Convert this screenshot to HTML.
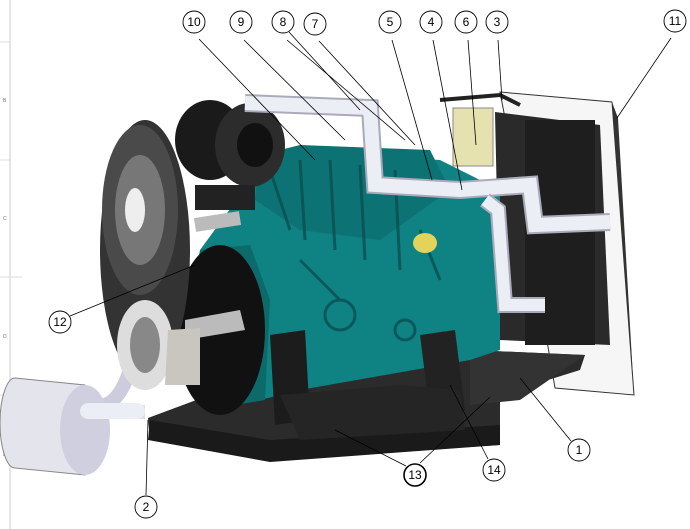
<!DOCTYPE html>
<html><head><style>html,body{margin:0;padding:0;background:#fff;overflow:hidden}svg{display:block}text{font-family:"Liberation Sans",sans-serif}</style></head>
<body>
<svg width="690" height="529" viewBox="0 0 690 529" xmlns="http://www.w3.org/2000/svg">
<rect width="690" height="529" fill="#fff"/>
<line x1="10" y1="0" x2="10" y2="529" stroke="#ccc"/>
<line x1="0" y1="42" x2="10" y2="42" stroke="#ddd"/><line x1="0" y1="160" x2="10" y2="160" stroke="#ddd"/><line x1="0" y1="277" x2="22" y2="277" stroke="#ddd"/><line x1="0" y1="395" x2="10" y2="395" stroke="#ddd"/>
<g font-size="5" fill="#777"><text x="3" y="102">B</text><text x="3" y="220">C</text><text x="3" y="338">D</text><text x="3" y="456">E</text></g>
<!-- radiator back panel -->
<polygon points="500,92 612,102 634,395 555,388 540,300" fill="#f6f6f6" stroke="#333"/>
<polygon points="612,102 618,118 634,395" fill="#333"/>
<!-- radiator -->
<polygon points="495,112 600,125 610,345 500,340" fill="#2a2a2a"/>
<rect x="525" y="120" width="70" height="225" fill="#1e1e1e"/>
<!-- base frame -->
<polygon points="148,418 150,440 270,460 500,445 500,395 580,370 585,355 470,350 250,380" fill="#2b2b2b"/>
<polygon points="150,420 270,440 500,425 500,445 270,462 148,440" fill="#1a1a1a"/>
<polygon points="470,350 585,355 520,400 470,405" fill="#333"/>
<!-- engine body teal -->
<polygon points="200,250 255,175 290,150 440,160 500,190 500,350 470,360 300,390 260,400 200,380" fill="#0f8284"/>
<polygon points="260,155 300,145 430,150 450,190 380,240 300,230 255,200" fill="#0d7273"/>
<polygon points="200,250 250,245 270,300 265,400 205,410 180,360" fill="#0c6a6b"/>
<g stroke="#0a4f50" stroke-width="3" fill="none" opacity="0.8">
<path d="M270,170 L290,230 M300,160 L305,240 M330,160 L335,250 M360,165 L365,260 M395,170 L400,270 M300,260 L340,300 M420,230 L440,280"/>
<circle cx="340" cy="315" r="15"/><circle cx="405" cy="330" r="10"/>
</g>
<!-- flywheel black disc -->
<ellipse cx="220" cy="330" rx="45" ry="85" fill="#111"/>
<polygon points="185,320 240,310 245,330 185,340" fill="#bbb"/>
<!-- black brackets -->
<polygon points="270,335 305,330 310,420 275,425" fill="#1c1c1c"/>
<polygon points="420,335 455,330 465,410 430,415" fill="#222"/>
<polygon points="280,395 400,385 460,390 465,430 300,440" fill="#252525"/>
<!-- air filter -->
<ellipse cx="210" cy="140" rx="35" ry="40" fill="#1a1a1a"/>
<ellipse cx="250" cy="145" rx="35" ry="42" fill="#2c2c2c"/>
<ellipse cx="255" cy="145" rx="18" ry="22" fill="#111"/>
<rect x="195" y="185" width="60" height="25" fill="#222"/>
<!-- pipes white -->
<path d="M245,103 L370,108 L375,185 L460,190 L530,185 L535,225 L610,222" fill="none" stroke="#aab" stroke-width="18"/>
<path d="M245,103 L370,108 L375,185 L460,190 L530,185 L535,225 L610,222" fill="none" stroke="#eceef5" stroke-width="14"/>
<path d="M485,200 L498,210 L505,305 L545,305" fill="none" stroke="#aab" stroke-width="16"/>
<path d="M485,200 L498,210 L505,305 L545,305" fill="none" stroke="#eceef5" stroke-width="12"/>
<path d="M195,225 L240,218" stroke="#bbb" stroke-width="14"/>
<path d="M130,370 Q120,400 105,405 L70,410" fill="none" stroke="#ccd" stroke-width="14"/>
<path d="M75,412 L145,412" stroke="#dde" stroke-width="14"/>
<!-- tank -->
<rect x="453" y="108" width="40" height="58" fill="#e6e2b0" stroke="#888"/>
<path d="M440,100 L500,95 L520,105" fill="none" stroke="#222" stroke-width="4"/>
<!-- pulleys/belt -->
<ellipse cx="145" cy="250" rx="45" ry="130" fill="#333"/>
<ellipse cx="140" cy="210" rx="38" ry="85" fill="#4a4a4a"/>
<ellipse cx="140" cy="210" rx="25" ry="55" fill="#777"/>
<ellipse cx="135" cy="210" rx="10" ry="22" fill="#eee"/>
<ellipse cx="145" cy="345" rx="28" ry="45" fill="#ddd"/>
<ellipse cx="145" cy="345" rx="15" ry="28" fill="#888"/>
<polygon points="168,330 200,328 200,385 165,385" fill="#c9c6c0"/>
<!-- yellow part -->
<ellipse cx="425" cy="243" rx="12" ry="10" fill="#e3d35a"/>
<!-- muffler -->
<path d="M15,378 L85,385 A25,55 0 0 1 85,475 L15,468 A15,45 0 0 1 15,378 Z" fill="#e4e4ec" stroke="#888"/>
<ellipse cx="85" cy="430" rx="25" ry="45" fill="#cfcfe0"/>
<rect x="80" y="403" width="65" height="16" rx="8" fill="#eceef5"/>
<!-- leaders -->
<g stroke="#000" stroke-width="0.8" fill="none">
<line x1="199" y1="39" x2="315" y2="160"/><line x1="244" y1="40" x2="345" y2="140"/>
<line x1="287" y1="40" x2="405" y2="140"/><line x1="289" y1="32" x2="360" y2="110"/><line x1="319" y1="41" x2="415" y2="145"/>
<line x1="392" y1="40" x2="432" y2="180"/><line x1="433" y1="40" x2="462" y2="190"/>
<line x1="468" y1="40" x2="476" y2="145"/><line x1="498" y1="40" x2="502" y2="100"/>
<line x1="671" y1="38" x2="617" y2="118"/><line x1="70" y1="316" x2="195" y2="265"/>
<line x1="146" y1="495" x2="148" y2="420"/><line x1="406" y1="466" x2="335" y2="430"/>
<line x1="420" y1="463" x2="490" y2="397"/><line x1="488" y1="459" x2="450" y2="385"/>
<line x1="571" y1="441" x2="520" y2="378"/>
</g>
<g fill="#fff" stroke="#000" stroke-width="0.9">
<circle cx="194" cy="22" r="11"/><circle cx="241" cy="22" r="11"/><circle cx="283" cy="22" r="11"/><circle cx="315" cy="24" r="11"/>
<circle cx="390" cy="22" r="11"/><circle cx="431" cy="22" r="11"/><circle cx="466" cy="22" r="11"/><circle cx="497" cy="22" r="11"/>
<circle cx="675" cy="21" r="11"/><circle cx="60" cy="322" r="11"/><circle cx="146" cy="507" r="11"/>
<circle cx="415" cy="475" r="11" stroke-width="1.6"/><circle cx="494" cy="470" r="11"/><circle cx="579" cy="450" r="11"/>
</g>
<g font-size="12" text-anchor="middle" fill="#000">
<text x="194" y="26">10</text><text x="241" y="26">9</text><text x="283" y="26">8</text><text x="315" y="28">7</text>
<text x="390" y="26">5</text><text x="431" y="26">4</text><text x="466" y="26">6</text><text x="497" y="26">3</text>
<text x="675" y="25">11</text><text x="60" y="326">12</text><text x="146" y="511">2</text>
<text x="415" y="479">13</text><text x="494" y="474">14</text><text x="579" y="454">1</text>
</g>
</svg>
</body></html>
